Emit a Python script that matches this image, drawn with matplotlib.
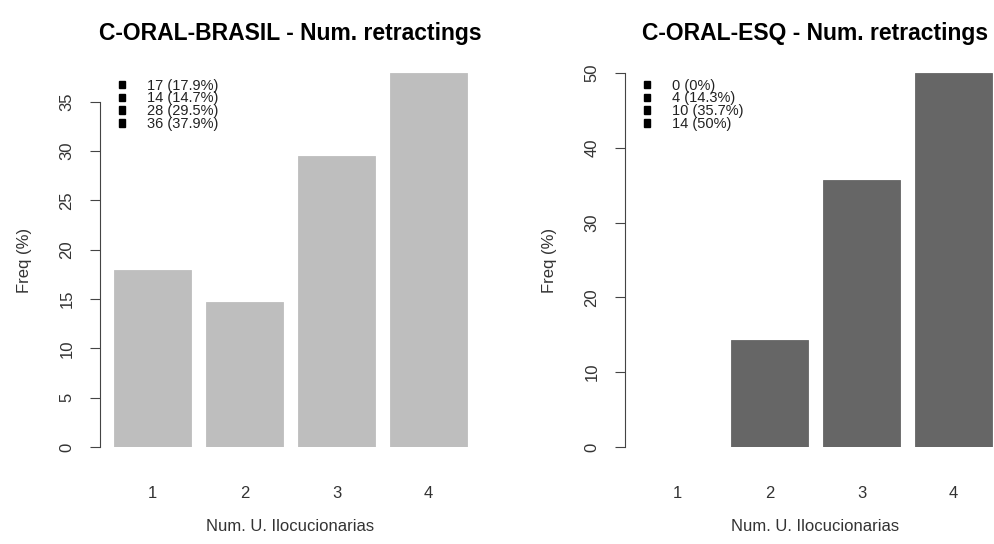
import numpy as np
import matplotlib.pyplot as plt
from matplotlib.patches import Patch

plt.rcParams["font.family"] = ["Liberation Sans", "DejaVu Sans"]

categories = ["1", "2", "3", "4"]

brasil_counts = [17, 14, 28, 36]
brasil_pct = [17.9, 14.7, 29.5, 37.9]
brasil_labels = ["17 (17.9%)", "14 (14.7%)", "28 (29.5%)", "36 (37.9%)"]

esq_counts = [0, 4, 10, 14]
esq_pct = [0, 14.3, 35.7, 50]
esq_labels = ["0 (0%)", "4 (14.3%)", "10 (35.7%)", "14 (50%)"]

W, H = 994, 544
fig = plt.figure(figsize=(W / 100, H / 100), dpi=100)

# R barplot geometry: width 1, space 0.2
pos = 0.2 + np.arange(4) * 1.2 + 0.5
xlim = (0.016, 4.984)


def panel(left_px, pct, labels, color, title, yticks):
    ax = fig.add_axes([left_px / W, (H - 447) / H, 381 / W, (447 - 73) / H])
    ax.bar(pos, pct, width=1.0, color=color, edgecolor=color, linewidth=0.6)
    ax.set_xlim(*xlim)
    ax.set_ylim(0, max(pct))
    for s in ["top", "right", "bottom"]:
        ax.spines[s].set_visible(False)
    ax.spines["left"].set_bounds(yticks[0], yticks[-1])
    ax.spines["left"].set_color("#444444")
    ax.set_yticks(yticks)
    ax.set_yticklabels([str(t) for t in yticks], rotation=90, va="center")
    ax.tick_params(axis="y", length=7.5, width=0.8, color="#444444", pad=11,
                   labelsize=12, labelcolor="#333333")
    ax.set_xticks(pos)
    ax.set_xticklabels(categories)
    ax.tick_params(axis="x", length=0, pad=28, labelsize=12, labelcolor="#333333")
    ax.set_xlabel("Num. U. Ilocucionarias", fontsize=12, color="#333333", labelpad=13)
    ax.set_ylabel("Freq (%)", fontsize=12, color="#333333")
    ax.yaxis.set_label_coords(-68 / 381, 0.5)
    ax.set_title(title, fontsize=16.5, fontweight="bold", pad=24)
    handles = [Patch(facecolor="black", edgecolor="black") for _ in labels]
    ax.legend(handles, labels, loc="upper left", bbox_to_anchor=(0.05, 0.985),
              frameon=False, fontsize=10.5, handlelength=0.4, handleheight=0.4,
              handletextpad=1.55, labelspacing=-0.08, borderpad=0, borderaxespad=0,
              labelcolor="#222222")
    return ax


panel(100, brasil_pct, brasil_labels, "#BEBEBE",
      "C-ORAL-BRASIL - Num. retractings", [0, 5, 10, 15, 20, 25, 30, 35])
panel(625, esq_pct, esq_labels, "#666666",
      "C-ORAL-ESQ - Num. retractings", [0, 10, 20, 30, 40, 50])

fig.savefig("out.png", dpi=100)
